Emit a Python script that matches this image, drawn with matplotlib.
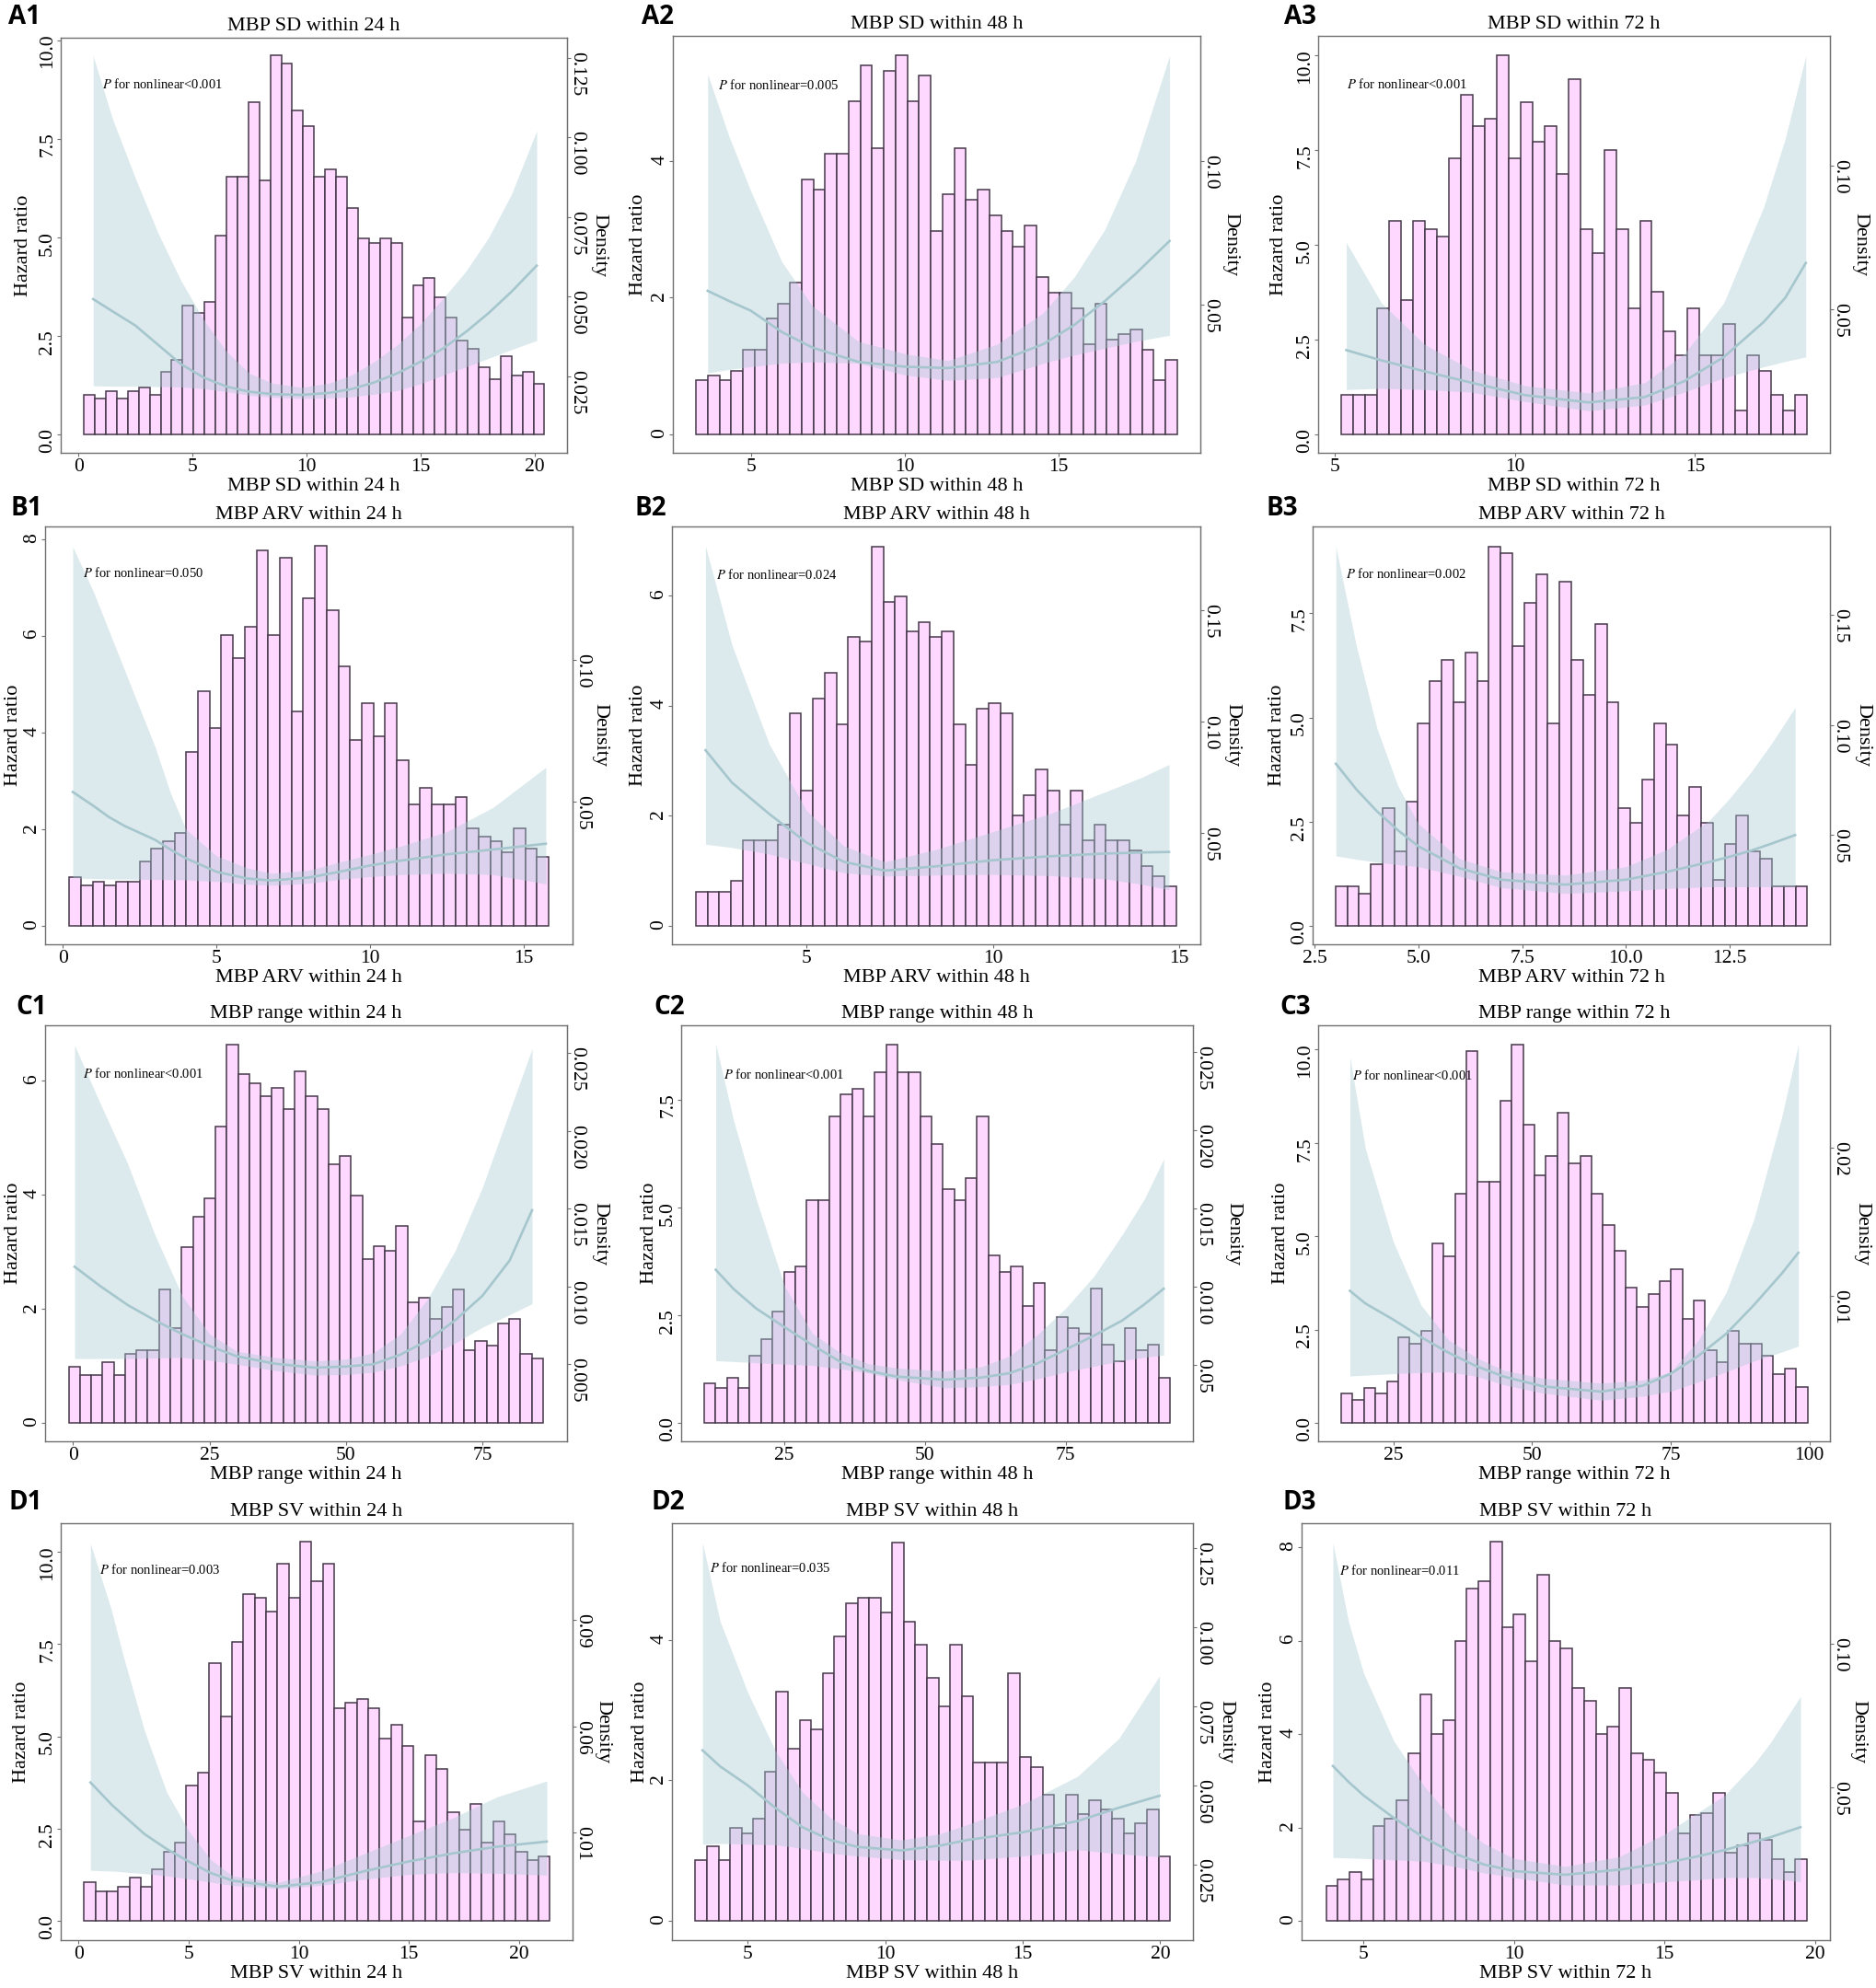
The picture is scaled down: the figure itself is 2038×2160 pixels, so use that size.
import numpy as np
import matplotlib.pyplot as plt

plt.rcParams['font.family'] = ['Liberation Serif', 'DejaVu Serif']
plt.rcParams['mathtext.fontset'] = 'stix'

# ---------------- data (bar heights read on the hazard-ratio scale) ----------------
# A1  MBP SD within 24 h
a1_bins = [0.245, 20.44]
a1_heights = [1.00, 0.91, 1.10, 0.91, 1.10, 1.19, 1.00, 1.59, 1.89, 3.27, 3.07, 3.37, 5.05, 6.54,
              6.54, 8.42, 6.44, 9.61, 9.41, 8.22, 7.83, 6.54, 6.73, 6.54, 5.75, 4.96, 4.86, 4.96,
              4.86, 2.97, 3.77, 3.96, 3.47, 2.97, 2.38, 2.18, 1.69, 1.39, 1.99, 1.49, 1.59, 1.29]
a1_x = [0.65, 1.5, 2.5, 3.5, 4.5, 5.5, 6.5, 7.5, 8.5, 9.8, 11, 12, 13, 14, 15, 16, 17, 18, 19, 20.1]
a1_hr = [3.43, 3.12, 2.76, 2.27, 1.78, 1.44, 1.21, 1.08, 1.02, 1.00, 1.05, 1.15, 1.32, 1.55, 1.84,
         2.18, 2.60, 3.08, 3.62, 4.28]
a1_lo = [1.23, 1.22, 1.22, 1.21, 1.20, 1.16, 1.08, 0.99, 0.94, 0.91, 0.92, 0.95, 1.02, 1.11, 1.28,
         1.50, 1.71, 1.93, 2.15, 2.38]
a1_hi = [9.6, 8.0, 6.5, 5.1, 3.9, 2.9, 2.1, 1.55, 1.3, 1.19, 1.3, 1.51, 1.85, 2.28, 2.8, 3.45, 4.14,
         5.0, 6.1, 7.7]

# A2  MBP SD within 48 h
a2_bins = [3.225, 18.847]
a2_heights = [0.79, 0.86, 0.79, 0.93, 1.24, 1.24, 1.69, 1.91, 2.22, 3.73, 3.58, 4.11, 4.11, 4.87,
              5.40, 4.19, 5.32, 5.55, 4.87, 5.25, 2.97, 3.51, 4.19, 3.43, 3.58, 3.21, 2.97, 2.75,
              3.05, 2.30, 2.07, 2.07, 1.84, 1.32, 1.91, 1.39, 1.47, 1.54, 1.24, 0.79, 1.09]
a2_x = [3.6, 4.3, 5, 6, 7, 8.5, 10, 11.4, 13, 14.5, 15.5, 16.5, 17.5, 18.6]
a2_hr = [2.10, 1.95, 1.81, 1.50, 1.27, 1.06, 0.99, 0.97, 1.06, 1.32, 1.60, 1.95, 2.35, 2.83]
a2_lo = [0.90, 0.95, 0.99, 1.04, 1.06, 1.04, 0.87, 0.79, 0.83, 1.04, 1.16, 1.26, 1.36, 1.45]
a2_hi = [5.27, 4.35, 3.56, 2.53, 1.88, 1.36, 1.18, 1.08, 1.32, 1.78, 2.30, 3.00, 4.00, 5.54]

# A3  MBP SD within 72 h
a3_bins = [5.188, 18.108]
a3_heights = [1.04, 1.04, 1.04, 3.33, 5.64, 3.55, 5.64, 5.42, 5.21, 7.29, 8.96, 8.12, 8.33, 10.0,
              7.29, 8.75, 7.71, 8.12, 6.87, 9.37, 5.42, 4.79, 7.50, 5.42, 3.33, 5.64, 3.75, 2.71,
              2.09, 3.33, 2.09, 2.09, 2.92, 0.62, 2.09, 1.67, 1.04, 0.62, 1.04]
a3_x = [5.33, 6.3, 7.5, 8.8, 10.3, 12.05, 13.6, 14.7, 15.8, 16.9, 17.5, 18.07]
a3_hr = [2.22, 1.95, 1.66, 1.36, 1.03, 0.84, 0.98, 1.40, 2.04, 2.96, 3.60, 4.52]
a3_lo = [1.18, 1.21, 1.18, 1.11, 0.86, 0.62, 0.77, 1.11, 1.49, 1.78, 1.92, 2.04]
a3_hi = [5.06, 3.47, 2.37, 1.70, 1.28, 1.09, 1.36, 2.12, 3.47, 5.99, 7.80, 9.98]

# B1  MBP ARV within 24 h
b1_bins = [0.2075, 15.817]
b1_heights = [1.00, 0.84, 0.92, 0.84, 0.92, 0.92, 1.34, 1.60, 1.76, 1.93, 3.59, 4.85, 4.09, 6.02,
              5.53, 6.19, 7.77, 6.02, 7.61, 4.43, 6.78, 7.86, 6.52, 5.36, 3.85, 4.60, 3.92, 4.60,
              3.43, 2.51, 2.85, 2.51, 2.51, 2.67, 2.01, 1.85, 1.76, 1.52, 2.01, 1.60, 1.43]
b1_x = [0.32, 1, 1.5, 2, 3, 3.5, 4, 5, 6, 6.77, 8, 9, 10, 11, 12.5, 14, 15.72]
b1_hr = [2.77, 2.48, 2.25, 2.07, 1.78, 1.58, 1.40, 1.12, 0.98, 0.94, 1.00, 1.12, 1.25, 1.35, 1.48,
         1.58, 1.70]
b1_lo = [0.99, 0.98, 0.97, 0.97, 0.96, 0.955, 0.95, 0.92, 0.86, 0.84, 0.88, 0.96, 1.02, 1.06, 1.09,
         1.06, 0.87]
b1_hi = [7.84, 6.9, 6.1, 5.3, 3.7, 2.75, 2.0, 1.45, 1.2, 1.09, 1.15, 1.32, 1.48, 1.65, 1.95, 2.45,
         3.28]

# B2  MBP ARV within 48 h
b2_bins = [2.027, 14.914]
b2_heights = [0.62, 0.62, 0.62, 0.81, 1.55, 1.55, 1.55, 1.83, 3.86, 2.46, 4.13, 4.59, 3.66, 5.25,
              5.16, 6.90, 5.88, 5.99, 5.35, 5.52, 5.25, 5.35, 3.66, 2.93, 3.94, 4.05, 3.86, 2.01,
              2.38, 2.84, 2.46, 1.83, 2.46, 1.55, 1.83, 1.55, 1.55, 1.36, 1.09, 0.90, 0.71]
b2_x = [2.29, 3, 4, 5, 6, 7.1, 8.5, 10, 11.5, 13, 14, 14.72]
b2_hr = [3.19, 2.60, 2.03, 1.51, 1.16, 1.00, 1.08, 1.19, 1.26, 1.31, 1.33, 1.34]
b2_lo = [1.48, 1.42, 1.30, 1.13, 0.96, 0.90, 0.92, 0.93, 0.91, 0.85, 0.75, 0.65]
b2_hi = [6.90, 5.10, 3.30, 2.09, 1.45, 1.16, 1.39, 1.71, 2.03, 2.43, 2.70, 2.93]

# B3  MBP ARV within 72 h
b3_bins = [3.0, 14.373]
b3_heights = [0.94, 0.94, 0.78, 1.47, 2.82, 1.79, 2.98, 4.86, 5.88, 6.39, 5.37, 6.56, 5.88, 9.10,
              8.94, 6.72, 7.75, 8.43, 4.86, 8.26, 6.39, 5.55, 7.24, 5.37, 2.82, 2.47, 3.50, 4.86,
              4.35, 2.64, 3.33, 2.47, 1.11, 1.97, 2.64, 1.79, 1.62, 0.94, 0.94, 0.94]
b3_x = [3.01, 3.5, 4, 4.5, 5, 6, 7, 8.53, 10, 11, 12, 12.5, 13, 13.5, 14.08]
b3_hr = [3.89, 3.28, 2.75, 2.30, 1.91, 1.38, 1.11, 0.99, 1.11, 1.30, 1.53, 1.66, 1.80, 1.97, 2.18]
b3_lo = [1.68, 1.60, 1.53, 1.47, 1.42, 1.19, 0.92, 0.78, 0.84, 0.90, 0.94, 0.94, 0.94, 0.94, 0.94]
b3_hi = [9.10, 6.73, 4.74, 3.37, 2.45, 1.61, 1.30, 1.22, 1.42, 1.84, 2.52, 3.06, 3.67, 4.36, 5.24]

# C1  MBP range within 24 h
c1_bins = [-0.80, 86.12]
c1_heights = [0.99, 0.84, 0.84, 1.06, 0.84, 1.21, 1.28, 1.28, 2.34, 1.66, 3.09, 3.62, 3.93, 5.20,
              6.63, 6.11, 5.96, 5.73, 5.88, 5.50, 6.17, 5.73, 5.50, 4.53, 4.68, 3.99, 2.87, 3.10,
              3.02, 3.46, 2.11, 2.19, 1.82, 2.04, 2.34, 1.28, 1.44, 1.36, 1.74, 1.82, 1.21, 1.13]
c1_x = [0.3, 5, 10, 15, 20, 25, 30, 37, 44.3, 50, 55, 60, 65, 70, 75, 80, 84.1]
c1_hr = [2.74, 2.40, 2.07, 1.80, 1.56, 1.35, 1.17, 1.04, 0.97, 0.99, 1.03, 1.20, 1.45, 1.80, 2.23,
         2.85, 3.73]
c1_lo = [1.13, 1.13, 1.13, 1.14, 1.15, 1.10, 1.03, 0.92, 0.84, 0.85, 0.89, 1.00, 1.17, 1.40, 1.68,
         1.90, 2.09]
c1_hi = [6.62, 5.6, 4.55, 3.30, 2.23, 1.56, 1.26, 1.15, 1.09, 1.12, 1.23, 1.56, 2.18, 3.02, 4.13,
         5.47, 6.56]

# C2  MBP range within 48 h
c2_bins = [10.765, 93.55]
c2_heights = [0.91, 0.80, 1.04, 0.80, 1.55, 1.94, 2.59, 3.50, 3.62, 5.16, 5.16, 7.10, 7.62, 7.74,
              7.10, 8.14, 8.78, 8.14, 8.14, 7.10, 6.46, 5.42, 5.16, 5.68, 7.10, 3.88, 3.50, 3.62,
              2.71, 3.24, 1.68, 2.46, 2.20, 2.07, 3.11, 1.81, 1.42, 2.20, 1.68, 1.81, 1.04]
c2_x = [12.8, 16, 20, 25, 30, 35, 40, 45, 53.5, 60, 65, 70, 75, 80, 85, 89, 92.4]
c2_hr = [3.55, 3.10, 2.65, 2.22, 1.80, 1.41, 1.20, 1.07, 1.00, 1.05, 1.15, 1.38, 1.70, 2.02, 2.37,
         2.75, 3.11]
c2_lo = [1.44, 1.42, 1.39, 1.36, 1.33, 1.25, 1.15, 1.00, 0.81, 0.84, 0.89, 1.02, 1.18, 1.31, 1.44,
         1.52, 1.57]
c2_hi = [8.79, 7.0, 5.18, 3.18, 2.07, 1.62, 1.37, 1.27, 1.20, 1.30, 1.55, 2.05, 2.66, 3.40, 4.36,
         5.2, 6.12]

# C3  MBP range within 72 h
c3_bins = [15.65, 99.64]
c3_heights = [0.78, 0.62, 0.95, 0.78, 1.12, 2.30, 2.13, 2.46, 4.80, 4.46, 6.13, 9.97, 6.46, 6.46,
              8.63, 10.14, 7.98, 6.63, 7.14, 8.30, 6.95, 7.14, 6.13, 5.29, 4.62, 3.63, 3.11, 3.46,
              3.80, 4.12, 2.80, 3.28, 1.96, 1.62, 2.46, 2.13, 2.13, 1.79, 1.30, 1.45, 0.96]
c3_x = [17.2, 20, 25, 30, 35, 40, 45, 52, 62.4, 70, 75, 80, 85, 90, 95, 98]
c3_hr = [3.54, 3.20, 2.77, 2.30, 1.88, 1.52, 1.24, 0.98, 0.84, 1.00, 1.32, 1.80, 2.39, 3.16, 4.00,
         4.56]
c3_lo = [1.26, 1.28, 1.32, 1.35, 1.37, 1.25, 1.02, 0.80, 0.61, 0.72, 0.85, 1.10, 1.37, 1.66, 1.90,
         2.06]
c3_hi = [9.80, 7.34, 4.86, 3.16, 2.22, 1.75, 1.41, 1.20, 1.07, 1.15, 1.37, 2.22, 3.50, 5.46, 8.19,
         10.14]

# D1  MBP SV within 24 h
d1_bins = [0.253, 21.41]
d1_heights = [1.05, 0.81, 0.81, 0.93, 1.18, 0.93, 1.41, 1.87, 2.12, 3.66, 4.01, 6.97, 5.54, 7.56,
              8.85, 8.74, 8.37, 9.68, 8.74, 10.26, 9.20, 9.68, 5.77, 5.90, 6.02, 5.77, 4.94, 5.32,
              4.73, 2.70, 4.49, 4.12, 2.94, 2.47, 3.18, 2.12, 2.70, 2.35, 1.87, 1.64, 1.76]
d1_x = [0.54, 1.5, 2, 3, 4, 5, 6, 7, 9.1, 11, 13, 15, 17, 19, 21.27]
d1_hr = [3.75, 3.15, 2.88, 2.35, 1.95, 1.61, 1.30, 1.09, 0.93, 1.05, 1.35, 1.61, 1.83, 2.01, 2.15]
d1_lo = [1.37, 1.35, 1.33, 1.28, 1.22, 1.14, 1.05, 0.96, 0.87, 0.96, 1.13, 1.26, 1.31, 1.29, 1.24]
d1_hi = [10.22, 8.4, 7.24, 5.14, 3.49, 2.44, 1.66, 1.22, 1.05, 1.35, 1.83, 2.31, 2.79, 3.36, 3.79]

# D2  MBP SV within 48 h
d2_bins = [3.101, 20.36]
d2_heights = [0.86, 1.06, 0.86, 1.32, 1.25, 1.45, 2.12, 3.26, 2.45, 2.86, 2.73, 3.53, 4.06, 4.53,
              4.60, 4.60, 4.39, 5.40, 4.26, 3.93, 3.46, 3.06, 3.93, 3.20, 2.26, 2.26, 2.26, 3.53,
              2.33, 2.19, 1.79, 1.32, 1.79, 1.52, 1.72, 1.59, 1.45, 1.25, 1.39, 1.59, 0.92]
d2_x = [3.36, 4, 5, 6, 7, 8, 9, 10.58, 12, 13, 15, 17, 18.5, 19.97]
d2_hr = [2.43, 2.20, 1.93, 1.61, 1.33, 1.15, 1.05, 1.00, 1.07, 1.15, 1.26, 1.42, 1.61, 1.78]
d2_lo = [1.09, 1.10, 1.09, 1.08, 1.03, 0.96, 0.92, 0.87, 0.86, 0.86, 0.92, 1.01, 0.95, 0.91]
d2_hi = [5.39, 4.27, 3.26, 2.43, 1.83, 1.47, 1.24, 1.15, 1.24, 1.37, 1.66, 2.06, 2.60, 3.49]

# D3  MBP SV within 72 h
d3_bins = [3.753, 19.735]
d3_heights = [0.76, 0.90, 1.05, 0.90, 2.03, 2.19, 2.59, 3.59, 4.86, 4.01, 4.30, 5.99, 7.12, 7.28,
              8.12, 6.29, 6.57, 5.57, 7.41, 5.99, 5.84, 5.00, 4.72, 4.01, 4.16, 5.00, 3.59, 3.45,
              3.17, 2.74, 1.88, 2.28, 2.32, 2.74, 1.47, 1.62, 1.88, 1.74, 1.32, 1.05, 1.32]
d3_x = [3.98, 4.5, 5, 6, 7, 8, 9, 10, 11.7, 13.5, 15, 16, 17, 18, 18.5, 19.52]
d3_hr = [3.32, 2.98, 2.69, 2.21, 1.79, 1.45, 1.21, 1.07, 0.99, 1.10, 1.24, 1.37, 1.52, 1.70, 1.79,
         2.01]
d3_lo = [1.36, 1.35, 1.34, 1.31, 1.28, 1.17, 1.03, 0.93, 0.77, 0.77, 0.84, 0.88, 0.93, 0.93, 0.91,
         0.84]
d3_hi = [8.10, 6.41, 5.31, 3.86, 2.90, 2.14, 1.66, 1.34, 1.17, 1.38, 1.86, 2.28, 2.69, 3.38, 3.80,
         4.81]

p_texts = ['<0.001', '=0.005', '<0.001', '=0.050', '=0.024', '=0.002',
           '<0.001', '<0.001', '<0.001', '=0.003', '=0.035', '=0.011']

# ---------------- drawing ----------------
W, H = 2038, 2160
fig = plt.figure(figsize=(W / 100, H / 100), dpi=100)

BAR = '#FFD8FF'
EDGE = '#45384a'
BAND = '#A9CBD2'
LINE = '#A6C6CE'
FRAME = '#707070'


def panel(box, tag, tagpos, title, bins, heights, cx, hr, lo, hi, xlim, xticks, ylim, yticks,
          dens, dticks, ptext, ppos, offs, xlabels=None, ylabels=None, dlabels=None):
    l, r, t, b = box
    aw = r - l
    ax = fig.add_axes([l / W, 1 - b / H, aw / W, (b - t) / H])
    edges = np.linspace(bins[0], bins[1], len(heights) + 1)
    ax.bar(edges[:-1], heights, width=np.diff(edges), align='edge', color=BAR,
           edgecolor=EDGE, linewidth=1.1, zorder=2)
    ax.fill_between(cx, lo, hi, color=BAND, alpha=0.4, linewidth=0, zorder=3)
    ax.plot(cx, hr, color=LINE, lw=1.9, zorder=4)

    ax.set_xlim(xlim)
    ax.set_ylim(ylim)
    ax.set_xticks(xticks, labels=xlabels if xlabels else [str(v) for v in xticks])
    ax.set_yticks(yticks, labels=ylabels if ylabels else [str(v) for v in yticks])
    ax.tick_params(axis='both', direction='out', length=3, width=0.8, color=FRAME,
                   labelsize=15.5, pad=1.5)
    ax.tick_params(axis='y', labelrotation=90, pad=0.5)
    for s in ax.spines.values():
        s.set_color(FRAME)
        s.set_linewidth(1.0)

    # density axis is a linear rescaling of the hazard-ratio axis
    d0, k = dens
    sec = ax.secondary_yaxis('right', functions=(lambda h: d0 + k * h, lambda d: (d - d0) / k))
    sec.set_yticks(dticks, labels=dlabels if dlabels else [str(v) for v in dticks])
    sec.tick_params(direction='out', length=3, width=0.8, color=FRAME, labelsize=15.5, pad=-2.5,
                    labelrotation=-90)
    sec.spines['right'].set_color(FRAME)

    ax.set_title(title, fontsize=16, pad=6)
    ax.set_xlabel(title, fontsize=16, labelpad=1)
    ax.text(-offs[0] / aw, 0.5, 'Hazard ratio', transform=ax.transAxes, rotation=90,
            ha='center', va='center', fontsize=16)
    ax.text(1 + offs[1] / aw, 0.5, 'Density', transform=ax.transAxes, rotation=270,
            ha='center', va='center', fontsize=16)
    ax.text(ppos[0], ppos[1], r'$\mathit{P}$ for nonlinear' + ptext, transform=ax.transAxes,
            fontsize=10.5, ha='left', va='center')
    fig.text(tagpos[0] / W, 1 - tagpos[1] / H, tag, fontsize=20, fontweight='bold',
             family='Open Sans', ha='left', va='center')
    return ax


one_dec = ['0.0', '2.5', '5.0', '7.5', '10.0']

panel((66, 616, 41, 492), 'A1', (9, 19), 'MBP SD within 24 h', a1_bins, a1_heights,
      a1_x, a1_hr, a1_lo, a1_hi, (-0.77, 21.43), [0, 5, 10, 15, 20], (-0.47, 10.06),
      [0, 2.5, 5, 7.5, 10], (0.0068, 0.01237), [0.025, 0.05, 0.075, 0.1, 0.125],
      p_texts[0], (0.081, 0.887), (40, 35), ylabels=one_dec,
      dlabels=['0.025', '0.050', '0.075', '0.100', '0.125'])
panel((731, 1304, 39, 492), 'A2', (697, 19), 'MBP SD within 48 h', a2_bins, a2_heights,
      a2_x, a2_hr, a2_lo, a2_hi, (2.47, 19.6), [5, 10, 15], (-0.27, 5.83), [0, 2, 4],
      (0.0048, 0.0238), [0.05, 0.10], p_texts[1], (0.086, 0.883), (38, 33),
      dlabels=['0.05', '0.10'])
panel((1432, 1988, 39, 492), 'A3', (1395, 19), 'MBP SD within 72 h', a3_bins, a3_heights,
      a3_x, a3_hr, a3_lo, a3_hi, (4.55, 18.74), [5, 10, 15], (-0.49, 10.51),
      [0, 2.5, 5, 7.5, 10], (0.0065, 0.01321), [0.05, 0.10], p_texts[2], (0.055, 0.885),
      (42, 33), ylabels=one_dec, dlabels=['0.05', '0.10'])

panel((49, 622, 572, 1026), 'B1', (11, 552), 'MBP ARV within 24 h', b1_bins, b1_heights,
      b1_x, b1_hr, b1_lo, b1_hi, (-0.58, 16.59), [0, 5, 10, 15], (-0.38, 8.26),
      [0, 2, 4, 6, 8], (0.0062, 0.01703), [0.05, 0.10], p_texts[3], (0.071, 0.888), (34, 30),
      dlabels=['0.05', '0.10'])
panel((730, 1304, 572, 1026), 'B2', (689, 552), 'MBP ARV within 48 h', b2_bins, b2_heights,
      b2_x, b2_hr, b2_lo, b2_hi, (1.39, 15.56), [5, 10, 15], (-0.34, 7.26), [0, 2, 4, 6],
      (0.0086, 0.02464), [0.05, 0.10, 0.15], p_texts[4], (0.083, 0.884), (37, 35),
      dlabels=['0.05', '0.10', '0.15'])
panel((1426, 1988, 572, 1026), 'B3', (1375, 552), 'MBP ARV within 72 h', b3_bins, b3_heights,
      b3_x, b3_hr, b3_lo, b3_hi, (2.45, 14.92), [2.5, 5, 7.5, 10, 12.5], (-0.44, 9.58),
      [0, 2.5, 5, 7.5], (0.0087, 0.01894), [0.05, 0.10, 0.15], p_texts[5], (0.064, 0.887),
      (38, 36), xlabels=['2.5', '5.0', '7.5', '10.0', '12.5'], ylabels=one_dec[:4],
      dlabels=['0.05', '0.10', '0.15'])

panel((49, 616, 1114, 1566), 'C1', (17, 1095), 'MBP range within 24 h', c1_bins, c1_heights,
      c1_x, c1_hr, c1_lo, c1_hi, (-5.1, 90.5), [0, 25, 50, 75], (-0.32, 6.97), [0, 2, 4, 6],
      (0.0012, 0.003672), [0.005, 0.010, 0.015, 0.020, 0.025], p_texts[6], (0.073, 0.883),
      (34, 36), dlabels=['0.005', '0.010', '0.015', '0.020', '0.025'])
panel((740, 1296, 1114, 1566), 'C2', (710, 1095), 'MBP range within 48 h', c2_bins, c2_heights,
      c2_x, c2_hr, c2_lo, c2_hi, (6.66, 97.6), [25, 50, 75], (-0.43, 9.22), [0, 2.5, 5, 7.5],
      (0.00133, 0.002754), [0.005, 0.010, 0.015, 0.020, 0.025], p_texts[7], (0.083, 0.882),
      (34, 44), ylabels=one_dec[:4], dlabels=['0.05', '0.010', '0.015', '0.020', '0.025'])
panel((1432, 1988, 1114, 1566), 'C3', (1390, 1095), 'MBP range within 72 h', c3_bins, c3_heights,
      c3_x, c3_hr, c3_lo, c3_hi, (11.48, 103.7), [25, 50, 75, 100], (-0.49, 10.65),
      [0, 2.5, 5, 7.5, 10], (0.0014, 0.00252), [0.01, 0.02], p_texts[8], (0.067, 0.879),
      (40, 35), ylabels=one_dec, dlabels=['0.01', '0.02'])

panel((66, 622, 1655, 2108), 'D1', (9, 1633), 'MBP SV within 24 h', d1_bins, d1_heights,
      d1_x, d1_hr, d1_lo, d1_hi, (-0.81, 22.44), [0, 5, 10, 15, 20], (-0.52, 10.77),
      [0, 2.5, 5, 7.5, 10], (0.005, 0.01043), [0.03, 0.06, 0.09], p_texts[9], (0.075, 0.889),
      (42, 33), ylabels=one_dec, dlabels=['0.01', '0.06', '0.09'])
panel((730, 1296, 1655, 2108), 'D2', (708, 1633), 'MBP SV within 48 h', d2_bins, d2_heights,
      d2_x, d2_hr, d2_lo, d2_hi, (2.25, 21.19), [5, 10, 15, 20], (-0.28, 5.67), [0, 2, 4],
      (0.00722, 0.02215), [0.025, 0.05, 0.075, 0.1, 0.125], p_texts[10], (0.073, 0.892),
      (35, 36), dlabels=['0.025', '0.050', '0.075', '0.100', '0.125'])
panel((1414, 1988, 1655, 2108), 'D3', (1393, 1633), 'MBP SV within 72 h', d3_bins, d3_heights,
      d3_x, d3_hr, d3_lo, d3_hi, (2.94, 20.5), [5, 10, 15, 20], (-0.41, 8.52), [0, 2, 4, 6, 8],
      (0.0034, 0.01629), [0.05, 0.10], p_texts[11], (0.072, 0.887), (37, 31),
      dlabels=['0.05', '0.10'])

fig.savefig('out.png', dpi=100)
